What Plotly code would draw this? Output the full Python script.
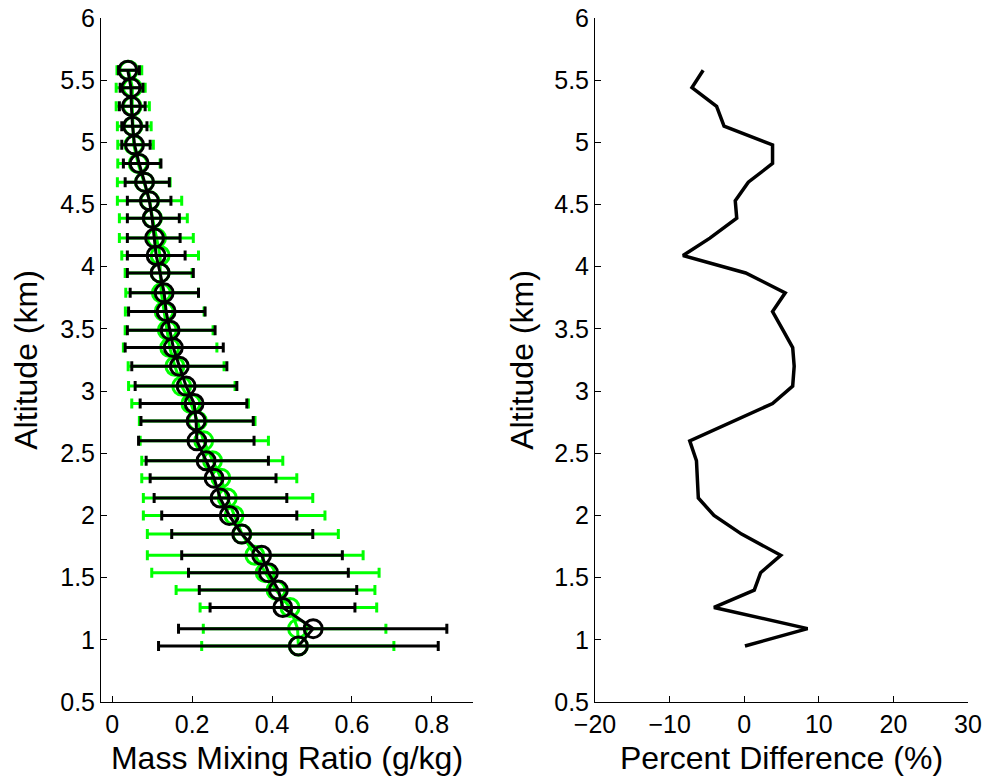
import plotly.graph_objects as go
from plotly.subplots import make_subplots

altitude = [5.58, 5.44, 5.29, 5.13, 4.98, 4.83, 4.68, 4.53, 4.39, 4.23,
            4.09, 3.95, 3.79, 3.64, 3.49, 3.35, 3.20, 3.04, 2.90, 2.76,
            2.60, 2.44, 2.30, 2.14, 2.00, 1.85, 1.68, 1.54, 1.40, 1.26,
            1.09, 0.95]

black_mean = [0.039, 0.047, 0.048, 0.051, 0.056, 0.0675, 0.081, 0.093, 0.100, 0.106,
              0.110, 0.120, 0.130, 0.135, 0.145, 0.153, 0.168, 0.185, 0.205, 0.210,
              0.212, 0.235, 0.255, 0.270, 0.293, 0.324, 0.374, 0.391, 0.416, 0.427,
              0.503, 0.466]
black_low = [0.016, 0.020, 0.018, 0.024, 0.024, 0.028, 0.0325, 0.038, 0.038, 0.038,
             0.038, 0.038, 0.045, 0.041, 0.038, 0.0325, 0.049, 0.0575, 0.070, 0.072,
             0.066, 0.085, 0.095, 0.105, 0.124, 0.149, 0.174, 0.191, 0.218, 0.245,
             0.166, 0.116]
black_high = [0.068, 0.077, 0.0825, 0.087, 0.095, 0.122, 0.143, 0.147, 0.168, 0.170,
              0.1825, 0.203, 0.216, 0.2325, 0.2575, 0.278, 0.287, 0.312, 0.337, 0.353,
              0.355, 0.391, 0.410, 0.437, 0.462, 0.502, 0.576, 0.591, 0.612, 0.6075,
              0.8375, 0.816]

green_mean = [0.041, 0.0505, 0.050, 0.052, 0.054, 0.065, 0.0805, 0.094, 0.101, 0.111,
              0.120, 0.120, 0.123, 0.130, 0.138, 0.144, 0.157, 0.174, 0.197, 0.213,
              0.229, 0.251, 0.272, 0.288, 0.305, 0.325, 0.357, 0.383, 0.410, 0.445,
              0.464, 0.466]
green_low = [0.012, 0.010, 0.010, 0.013, 0.014, 0.014, 0.013, 0.013, 0.018, 0.018,
             0.024, 0.0325, 0.034, 0.033, 0.0325, 0.028, 0.040, 0.041, 0.049, 0.068,
             0.070, 0.074, 0.074, 0.078, 0.078, 0.088, 0.088, 0.099, 0.160, 0.220,
             0.228, 0.224]
green_high = [0.074, 0.0825, 0.093, 0.0975, 0.103, 0.120, 0.145, 0.174, 0.188, 0.203,
              0.216, 0.200, 0.216, 0.230, 0.2525, 0.262, 0.280, 0.3075, 0.341, 0.3575,
              0.391, 0.427, 0.462, 0.502, 0.5325, 0.566, 0.628, 0.668, 0.6575, 0.662,
              0.685, 0.705]

percent_diff = [-5.5, -7.0, -3.7, -2.7, 3.8, 3.8, 0.55, -1.2, -1.0, -4.6,
                -8.2, 0.2, 5.5, 3.8, 5.2, 6.5, 6.7, 6.5, 3.8, -1.4,
                -7.3, -6.4, -6.3, -6.15, -4.05, -0.35, 4.9, 2.2, 1.35, -4.05,
                8.5, 0.1]

y_ticks = [0.5, 1, 1.5, 2, 2.5, 3, 3.5, 4, 4.5, 5, 5.5, 6]
y_tick_text = ["0.5", "1", "1.5", "2", "2.5", "3", "3.5", "4", "4.5", "5", "5.5", "6"]
x1_ticks = [0, 0.2, 0.4, 0.6, 0.8]
x1_tick_text = ["0", "0.2", "0.4", "0.6", "0.8"]
x2_ticks = [-20, -10, 0, 10, 20, 30]
x2_tick_text = ["\u221220", "\u221210", "0", "10", "20", "30"]

GREEN = "#00FF00"
FONT = "Liberation Sans"

# the page's body margin is removed below, so the figure fills the window
W, H = 989, 782


def xd(px):
    return px / W


def yd(py):
    return 1 - py / H


fig = make_subplots(rows=1, cols=2)

g_plus = [h - m for h, m in zip(green_high, green_mean)]
g_minus = [m - l for m, l in zip(green_mean, green_low)]
b_plus = [h - m for h, m in zip(black_high, black_mean)]
b_minus = [m - l for m, l in zip(black_mean, black_low)]

fig.add_trace(go.Scatter(
    x=green_mean, y=altitude, mode="lines+markers",
    line=dict(color=GREEN, width=3),
    marker=dict(symbol="circle-open", size=18, color=GREEN, line=dict(width=3, color=GREEN)),
    error_x=dict(type="data", symmetric=False, array=g_plus, arrayminus=g_minus,
                 color=GREEN, thickness=3, width=5),
    showlegend=False), row=1, col=1)

fig.add_trace(go.Scatter(
    x=black_mean, y=altitude, mode="lines+markers",
    line=dict(color="black", width=3),
    marker=dict(symbol="circle-open", size=18, color="black", line=dict(width=3, color="black")),
    error_x=dict(type="data", symmetric=False, array=b_plus, arrayminus=b_minus,
                 color="black", thickness=3, width=5),
    showlegend=False), row=1, col=1)

fig.add_trace(go.Scatter(
    x=percent_diff, y=altitude, mode="lines",
    line=dict(color="black", width=3.5),
    showlegend=False), row=1, col=2)

axis_common = dict(showline=True, linecolor="black", linewidth=1, ticks="inside",
                   ticklen=6, tickwidth=1, tickcolor="black", showgrid=False,
                   zeroline=False, mirror=False, automargin=False,
                   ticklabeloverflow="allow",
                   tickfont=dict(family=FONT, size=25, color="black"))

fig.update_xaxes(**axis_common)
fig.update_yaxes(**axis_common)

fig.update_xaxes(range=[-0.028, 0.903], tickvals=x1_ticks, ticktext=x1_tick_text,
                 domain=[xd(101), xd(473)],
                 title=dict(text="Mass Mixing Ratio (g/kg)", font=dict(family=FONT, size=32, color="black"),
                            standoff=9), row=1, col=1)
fig.update_xaxes(range=[-20, 30], tickvals=x2_ticks, ticktext=x2_tick_text,
                 domain=[xd(595), xd(968)],
                 title=dict(text="Percent Difference (%)", font=dict(family=FONT, size=32, color="black"),
                            standoff=9), row=1, col=2)
fig.update_yaxes(range=[0.5, 6], tickvals=y_ticks, ticktext=y_tick_text,
                 domain=[yd(702), yd(18)],
                 title=dict(text="Altitude (km)", font=dict(family=FONT, size=32, color="black"),
                            standoff=13), row=1, col=1)
fig.update_yaxes(range=[0.5, 6], tickvals=y_ticks, ticktext=y_tick_text,
                 domain=[yd(702), yd(18)],
                 title=dict(text="Altitude (km)", font=dict(family=FONT, size=32, color="black"),
                            standoff=11), row=1, col=2)

fig.update_layout(width=W, height=H, margin=dict(l=0, r=0, t=0, b=0),
                  paper_bgcolor="white", plot_bgcolor="white", hovermode=False)

fig.write_html("out.html", config={"displayModeBar": False, "staticPlot": True},
               post_script="document.body.style.margin='0';document.body.style.overflow='hidden';")
